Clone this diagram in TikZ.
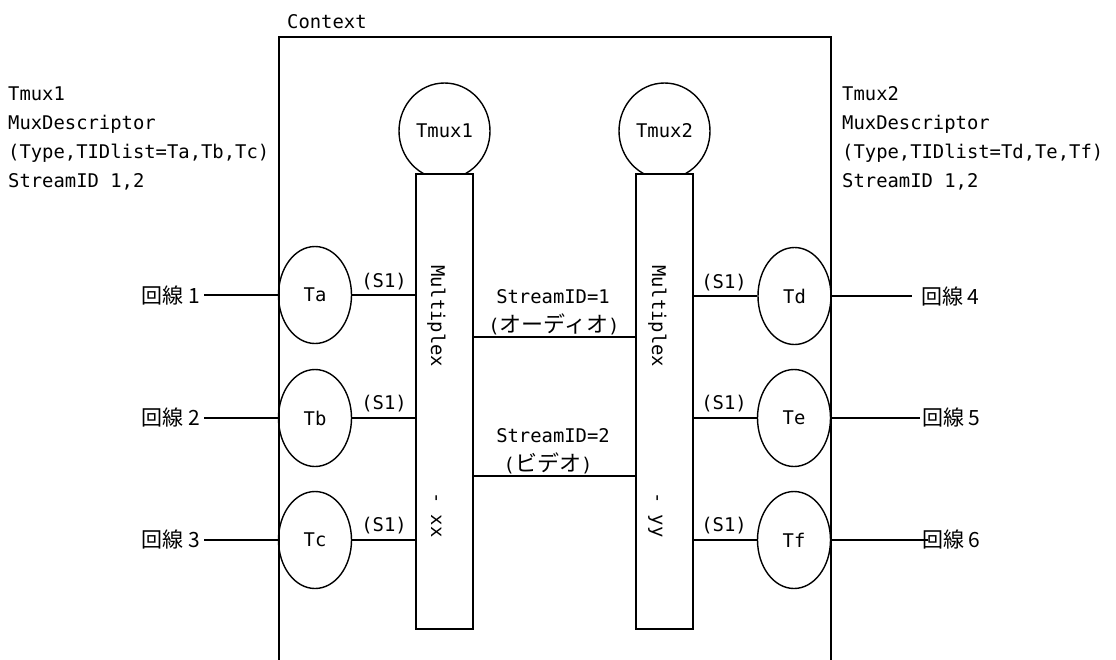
\documentclass[tikz,border=0pt]{standalone}
\usepackage{fontspec}
\setmainfont{DejaVu Sans Mono}
\newfontfamily\jp{Noto Sans CJK JP}
\usetikzlibrary{shapes.geometric}
\begin{document}
\begin{tikzpicture}[x=1pt,y=-1pt,
  every node/.style={inner sep=0pt, font=\fontsize{18.85}{22}\selectfont},
  term/.style={ellipse, draw, line width=1.4pt, minimum width=73pt, minimum height=97pt},
  muxc/.style={ellipse, draw, line width=1.4pt, minimum width=91pt, minimum height=96pt},
  bar/.style={rectangle, draw, line width=1.8pt, fill=white, minimum width=57pt, minimum height=455pt},
  wire/.style={line width=1.4pt},
  lbl/.style={anchor=base},
  jpl/.style={font=\jp\fontsize{21}{24}\selectfont},
  jpk/.style={font=\jp\fontsize{22}{24}\selectfont},
  vtext/.style={rotate=-90, anchor=base west},
]
\useasboundingbox (0,0) rectangle (1116,659);
\fill[white] (0,0) rectangle (1116,659);

% context frame
\node[anchor=base west] (ctx) at (287,28) {Context};
\draw[line width=1.8pt] (279,662) -- (279,37) -- (831,37) -- (831,662);

% descriptors
\node[anchor=base west] (d1a) at (8,100) {Tmux1};
\node[anchor=base west] (d1b) at (8,129) {MuxDescriptor};
\node[anchor=base west] (d1c) at (8,158) {(Type,TIDlist=Ta,Tb,Tc)};
\node[anchor=base west] (d1d) at (8,187) {StreamID 1,2};
\node[anchor=base west] (d2a) at (842,100) {Tmux2};
\node[anchor=base west] (d2b) at (842,129) {MuxDescriptor};
\node[anchor=base west] (d2c) at (842,158) {(Type,TIDlist=Td,Te,Tf)};
\node[anchor=base west] (d2d) at (842,187) {StreamID 1,2};

% multiplexers
\node[muxc] (tm1) at (444.5,131) {Tmux1};
\node[muxc] (tm2) at (664.5,131) {Tmux2};
\node[bar] (bar1) at (444.5,401.5) {};
\node[bar] (bar2) at (664.5,401.5) {};
\node[vtext] (mx1) at (431,265) {Multiplex\phantom{xxxxxxxxxxx}-\phantom{x}xx};
\node[vtext] (mx2) at (652,265) {Multiplex\phantom{xxxxxxxxxxx}-\phantom{x}yy};

% terminations
\node[term] (Ta) at (315,295) {Ta};
\node[term] (Tb) at (315,418) {Tb};
\node[term] (Tc) at (315,540) {Tc};
\node[term] (Td) at (794.5,296) {Td};
\node[term] (Te) at (794,418) {Te};
\node[term] (Tf) at (794,540) {Tf};

% T to multiplex
\draw[wire] (Ta.east) -- (Ta.east -| bar1.west);
\draw[wire] (Tb.east) -- (Tb.east -| bar1.west);
\draw[wire] (Tc.east) -- (Tc.east -| bar1.west);
\draw[wire] (Td.west) -- (Td.west -| bar2.east);
\draw[wire] (Te.west) -- (Te.west -| bar2.east);
\draw[wire] (Tf.west) -- (Tf.west -| bar2.east);
\node[lbl] (sa) at (384,287) {(S1)};
\node[lbl] (sb) at (384,409) {(S1)};
\node[lbl] (sc) at (384,531) {(S1)};
\node[lbl] (sd) at (724,288) {(S1)};
\node[lbl] (se) at (724,409) {(S1)};
\node[lbl] (sf) at (724,531) {(S1)};

% streams
\coordinate (sl1) at (554,337);
\coordinate (sl2) at (554,476);
\draw[wire] (bar1.east |- sl1) -- (bar2.west |- sl1);
\draw[wire] (bar1.east |- sl2) -- (bar2.west |- sl2);
\node[lbl] (sid1) at (553,303) {StreamID=1};
\node[lbl] (sid1j) at (554,332) {({\jp\fontsize{22}{24}\selectfont オーディオ})};
\node[lbl] (sid2) at (553,442) {StreamID=2};
\node[lbl] (sid2j) at (548,471) {({\jp\fontsize{22}{24}\selectfont ビデオ})};

% lines
\node[jpl, anchor=base east] (l1) at (200,303) {回線 1};
\node[jpl, anchor=base east] (l2) at (200,425) {回線 2};
\node[jpl, anchor=base east] (l3) at (200,547) {回線 3};
\node[jpl, anchor=base west] (l4) at (921,304) {回線 4};
\node[jpl, anchor=base west] (l5) at (922,425) {回線 5};
\node[jpl, anchor=base west] (l6) at (922,547) {回線 6};
\draw[wire, shorten >=4pt] (Ta.west) -- (Ta.west -| l1.east);
\draw[wire, shorten >=4pt] (Tb.west) -- (Tb.west -| l2.east);
\draw[wire, shorten >=4pt] (Tc.west) -- (Tc.west -| l3.east);
\draw[wire, shorten >=9pt] (Td.east) -- (Td.east -| l4.west);
\draw[wire, shorten >=2pt] (Te.east) -- (Te.east -| l5.west);
\draw[wire, shorten >=-6pt] (Tf.east) -- (Tf.east -| l6.west);
\end{tikzpicture}
\end{document}
